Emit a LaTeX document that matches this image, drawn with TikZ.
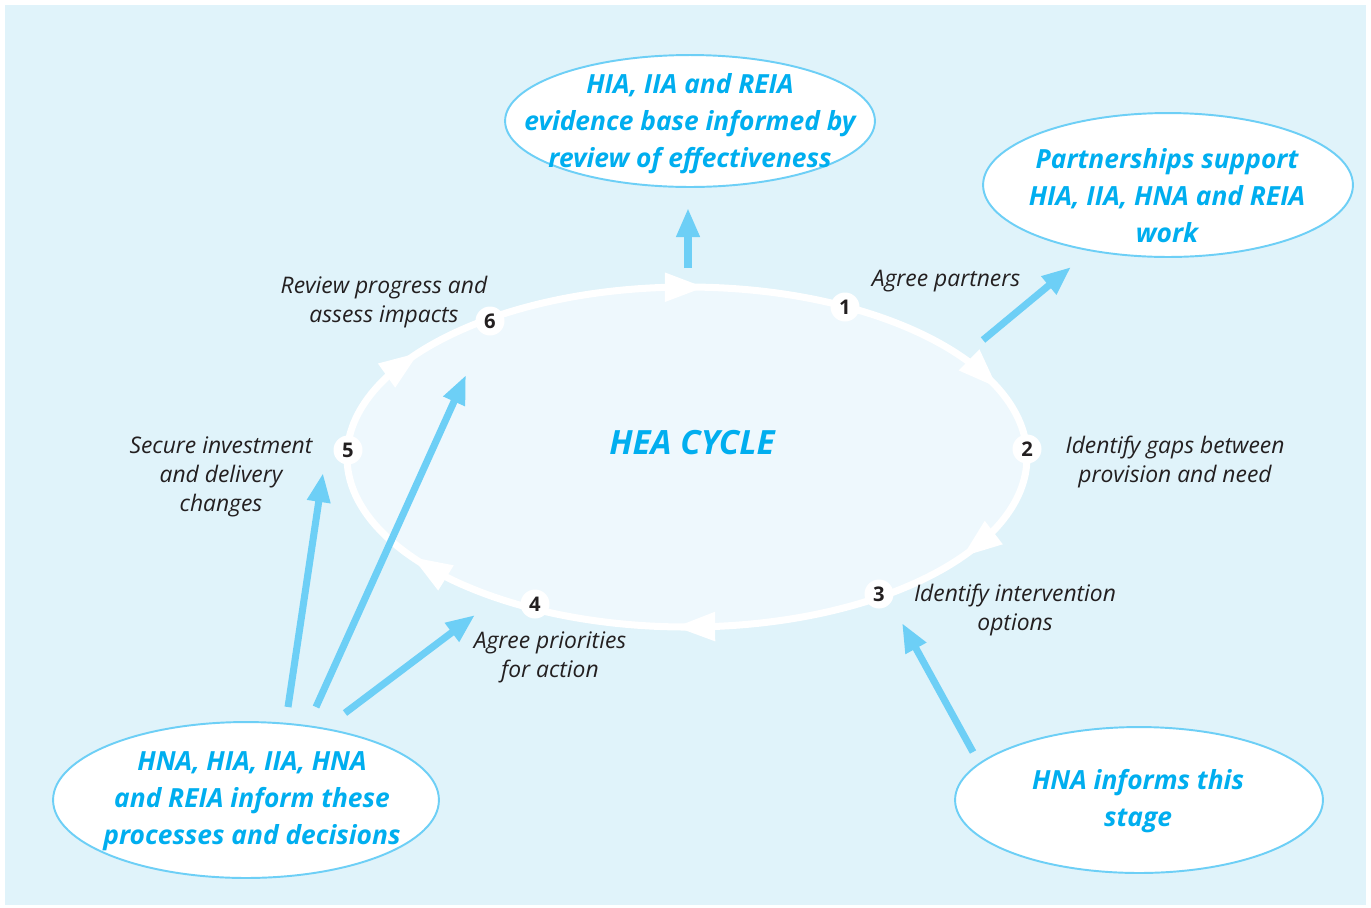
\documentclass[tikz,border=0pt]{standalone}
\usepackage{fontspec}
\setmainfont{Open Sans}
\usetikzlibrary{arrows.meta,shapes.geometric}
\definecolor{heaBack}{HTML}{E0F3FA}
\definecolor{heaInner}{HTML}{EEF8FD}
\definecolor{heaCyan}{HTML}{00AEEF}
\definecolor{heaArrow}{HTML}{6DCFF6}
\definecolor{heaText}{HTML}{231F20}
\begin{document}
\begin{tikzpicture}
[x=0.02cm, y=0.02cm,
  bubbleDecorate/.style={shape=ellipse,draw=heaArrow,line width=1.1pt,fill=white,inner sep=0pt},%
  bubbleText/.style={align=center,text=heaCyan,font=\fontsize{15}{21}\selectfont\bfseries\itshape},%
  stageDecorate/.style={shape=circle,fill=white,inner sep=0pt,minimum size=0.58cm,text=heaText,font=\fontsize{11.5}{13}\selectfont\bfseries},%
  labelDecorate/.style={align=center,text=heaText,font=\fontsize{13}{16.4}\selectfont\itshape},%
  feedDecorate/.style={draw=heaArrow,line width=4pt,-{Triangle[length=0.58cm,width=0.44cm]}},%
  cycleDecorate/.style={draw=white,line width=4pt,-{Triangle[length=0.8cm,width=0.55cm]}}]
\useasboundingbox (0,0) rectangle (1371,-907);
\fill[heaBack] (5,-5) rectangle (1366,-905);
%% the cycle
\draw[white,line width=4pt,fill=heaInner] (687,-457) ellipse[x radius=340,y radius=170];
\foreach \t in {87,24,-36,-92,-144,142}
{
  \draw[cycleDecorate] ({687+340*cos(\t+6)},{-457+170*sin(\t+6)}) -- ({687+340*cos(\t)},{-457+170*sin(\t)});
}
\node[text=heaCyan,font=\fontsize{19}{22}\selectfont\bfseries\itshape] (cycle) at (692,-443) {HEA CYCLE};
%% stages
\foreach \stagename/\x/\y in {1/845/307, 2/1027/449, 3/879/594, 4/535/604, 5/348/450, 6/490/321}
{
  \node[stageDecorate] (s\stagename) at (\x,-\y) {\stagename};
}
\node[labelDecorate] (l1) at (946,-281) {Agree partners};
\node[labelDecorate] (l2) at (1175,-462) {Identify gaps between\\provision and need};
\node[labelDecorate] (l3) at (1015,-610) {Identify intervention\\options};
\node[labelDecorate] (l4) at (550,-657) {Agree priorities\\for action};
\node[labelDecorate] (l5) at (221,-477) {Secure investment\\and delivery\\changes};
\node[labelDecorate] (l6) at (384,-302) {Review progress and\\assess impacts};
%% bubbles
\foreach \bubblename/\x/\y/\rx/\ry in {
  evidence/690/121/185/66, partners/1168/185/185/72, inform/246/800/193/78, stage/1139/800/184/73}
{
  \node[bubbleDecorate,minimum width=\rx*0.04cm,minimum height=\ry*0.04cm] (\bubblename) at (\x,-\y) {};
}
\node[bubbleText] at (690,-124) {HIA, IIA and REIA\\evidence base informed by\\review of effectiveness};
\node[bubbleText] at (1167,-196) {Partnerships support\\HIA, IIA, HNA and REIA\\work};
\node[bubbleText] at (252,-801) {HNA, HIA, IIA, HNA\\and REIA inform these\\processes and decisions};
\node[bubbleText] at (1138,-801) {HNA informs this\\stage};
%% feeding arrows
\foreach \startnode/\sx/\sy/\endnode/\ex/\ey in {
  fromCycle/688/268/toEvidence/688/208, fromOne/983/340/toPartners/1071/267,
  fromInformA/288/707/toFive/323/473, fromInformB/316/707/toSix/466/375,
  fromInformC/345/713/toFour/475/615, fromStage/973/752/toThree/902/623}
{
  \coordinate (\startnode) at (\sx,-\sy);
  \coordinate (\endnode) at (\ex,-\ey);
}
\path
\foreach \startnode/\endnode in {fromCycle/toEvidence, fromOne/toPartners,
  fromInformA/toFive, fromInformB/toSix, fromInformC/toFour, fromStage/toThree}
{
  (\startnode) edge[feedDecorate] (\endnode)
};
\end{tikzpicture}
\end{document}
